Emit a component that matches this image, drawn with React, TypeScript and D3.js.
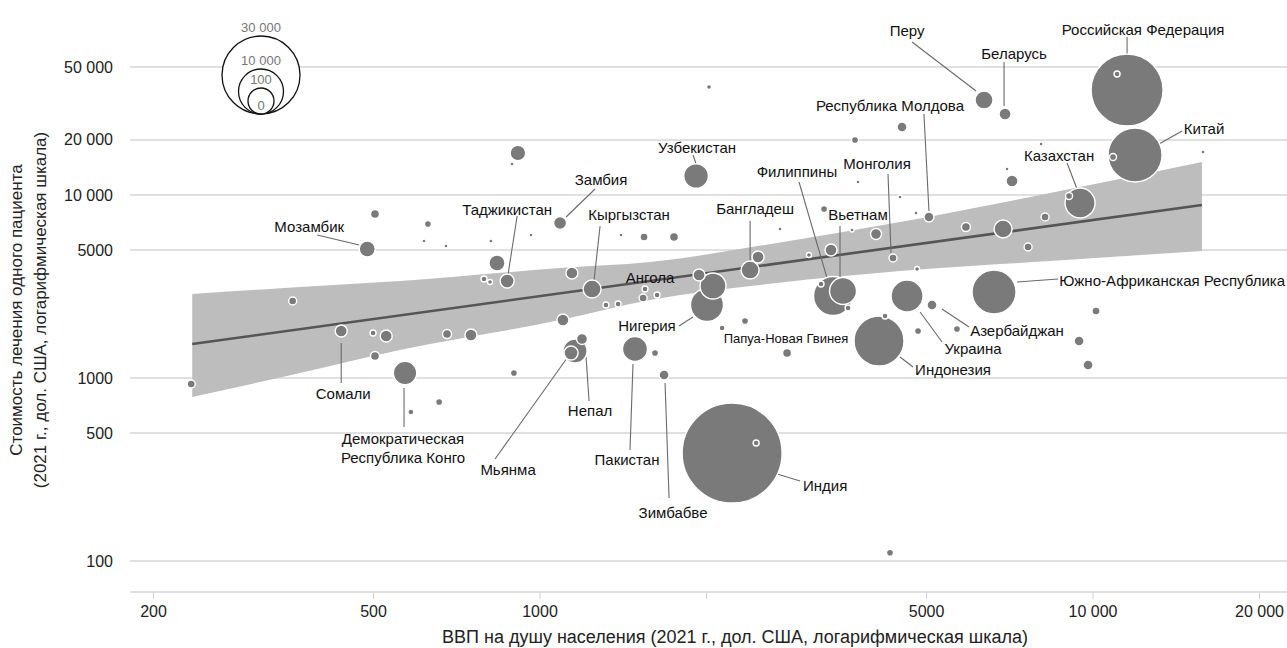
import React from "react";
import * as d3 from "d3";

// ---------- DATA ----------
const names = [
  "", "Перу", "Беларусь", "Российская Федерация", "", "Китай", "", "", "", "",
  "", "", "", "Казахстан", "", "", "", "", "", "",
  "", "", "Монголия", "", "Республика Молдова", "", "", "", "", "",
  "Южно-Африканская Республика", "Украина", "Азербайджан", "", "", "", "", "", "Индонезия", "",
  "Филиппины", "Вьетнам", "", "", "Узбекистан", "Бангладеш", "", "", "", "Ангола",
  "", "Нигерия", "", "Папуа-Новая Гвинея", "", "", "Зимбабве", "", "", "Таджикистан",
  "", "", "", "Кыргызстан", "", "", "", "", "", "Сомали",
  "", "", "", "", "", "", "Непал", "Мьянма", "", "Демократическая Республика Конго",
  "", "", "", "Пакистан", "Мозамбик", "", "", "", "", "",
  "Замбия", "", "", "", "", "", "", "Индия", "", "",
];
const gdpPerCapita = [
  2021, 6352, 6933, 11523, 11052, 11912, 10869, 8054, 15810, 3712,
  4514, 6990, 7137, 9474, 9050, 3758, 4477, 3263, 3666, 4051,
  3359, 3064, 4348, 4806, 5050, 4786, 5891, 6876, 8189, 7630,
  6622, 4610, 5115, 5675, 4826, 10125, 9435, 9795, 4102, 4206,
  3387, 3531, 3222, 3606, 1915, 2398, 2479, 2716, 1747, 1939,
  2055, 2004, 1628, 2348, 2134, 2797, 1676, 1614, 836, 872,
  792, 812, 1142, 1242, 1548, 1536, 1316, 1384, 357, 437,
  499, 527, 679, 750, 503, 1100, 1157, 1138, 1191, 570,
  584, 657, 897, 1485, 487, 503, 627, 617, 676, 815,
  1087, 963, 1401, 1542, 912, 890, 234, 2225, 2459, 4294,
];
const costPerPatient = [
  38920, 33040, 27710, 37480, 45840, 16540, 16130, 18990, 17180, 19980,
  23520, 13870, 11930, 9043, 9874, 11780, 9752, 8383, 6438, 6122,
  5006, 4701, 4526, 3940, 7582, 7972, 6686, 6520, 7582, 5198,
  2951, 2806, 2505, 1853, 1806, 2323, 1593, 1178, 1593, 2182,
  2806, 2988, 3264, 2413, 12700, 3891, 4584, 6520, 5895, 3654,
  3183, 2505, 2842, 2049, 1876, 1370, 1038, 1370, 4249, 3389,
  3475, 3346, 3747, 3064, 3064, 2736, 2505, 2537, 2635, 1806,
  1762, 1696, 1740, 1718, 1319, 2075, 1404, 1370, 1634, 1065,
  652, 739, 1065, 1440, 5069, 7874, 6943, 5606, 5264, 5606,
  7031, 6045, 6045, 5895, 16960, 14770, 927, 389, 441, 111,
];
const patientsTreated = [
  123, 1597, 710, 25560, 177, 14380, 242, 79, 79, 242,
  493, 79, 710, 4437, 242, 79, 79, 242, 79, 597,
  710, 123, 316, 123, 493, 79, 399, 1597, 316, 316,
  9544, 5048, 493, 242, 242, 316, 493, 493, 12325, 177,
  7499, 3594, 177, 177, 2983, 1597, 710, 79, 399, 710,
  3333, 5369, 177, 242, 177, 399, 493, 242, 1262, 966,
  177, 123, 710, 1597, 177, 316, 177, 177, 316, 710,
  177, 710, 399, 710, 399, 710, 2840, 966, 597, 2700,
  177, 242, 242, 3081, 1262, 399, 242, 79, 79, 79,
  833, 79, 79, 316, 1200, 79, 316, 49300, 177, 242,
];

// regression fit and confidence band
const fitGdp = [235, 15740];
const fitCost = [1534, 8816];
const bandGdp = [235, 368, 558, 1087, 1581, 2683, 4477, 8360, 15740];
const bandUpper = [2877, 3143, 3389, 3990, 4303, 5468, 7114, 10254, 15140];
const bandLower = [787, 1065, 1422, 2074, 2669, 3306, 3844, 4360, 4943];

// axes
const xTicks = [200, 500, 1000, 2000, 5000, 10000, 20000];
const xTickLabels = ["200", "500", "1000", "", "5000", "10 000", "20 000"];
const yTicks = [100, 500, 1000, 5000, 10000, 20000, 50000];
const yTickLabels = ["100", "500", "1000", "5000", "10 000", "20 000", "50 000"];

// size legend
const legendValues = [30000, 10000, 100, 0];
const legendLabels = ["30 000", "10 000", "100", "0"];

const xTitle = "ВВП на душу населения (2021 г., дол. США, логарифмическая шкала)";
const yTitle1 = "Стоимость лечения одного пациента";
const yTitle2 = "(2021 г., дол. США, логарифмическая шкала)";

// ---------- LABEL LAYOUT (offsets relative to the point, px) ----------
type Lab = { name: string; lines?: string[]; dx: number; dy: number; anchor?: string; size?: number; leader?: number[] };
const labelLayout: Lab[] = [
  { name: "Перу", dx: -77, dy: -70, leader: [-72, -58, -8, -9] },
  { name: "Беларусь", dx: 9, dy: -61, leader: [-1, -52, -1, -8] },
  { name: "Российская Федерация", dx: 16, dy: -61, leader: [0, -53, 0, -36] },
  { name: "Китай", dx: 69, dy: -27, leader: [47, -24, 24, -11] },
  { name: "Казахстан", dx: -21, dy: -48, leader: [-13, -40, -3, -14] },
  { name: "Республика Молдова", dx: -39, dy: -112, leader: [-5, -103, 0, -6] },
  { name: "Монголия", dx: -16, dy: -95, leader: [-5, -84, -2, -5] },
  { name: "Вьетнам", dx: 15, dy: -77, leader: [-3, -65, -3, -13] },
  { name: "Филиппины", dx: -36, dy: -125, leader: [-34, -114, -6, -18] },
  { name: "Бангладеш", dx: 5, dy: -62, leader: [0, -49, 0, -9] },
  { name: "Узбекистан", dx: 1, dy: -29, leader: [-3, -21, 0, -12] },
  { name: "Замбия", dx: 41, dy: -44, leader: [35, -34, 6, -6] },
  { name: "Кыргызстан", dx: 37, dy: -75, leader: [8, -63, 2, -9] },
  { name: "Таджикистан", dx: 0, dy: -72, leader: [10, -65, 1, -7] },
  { name: "Мозамбик", dx: -58, dy: -23, leader: [-50, -14, -8, -4] },
  { name: "Ангола", dx: -49, dy: 2 },
  { name: "Нигерия", dx: -60, dy: 20, leader: [-28, 21, -14, 12] },
  { name: "Папуа-Новая Гвинея", dx: 41, dy: 17, size: 13 },
  { name: "Сомали", dx: 2, dy: 62, leader: [0, 12, 0, 52] },
  { name: "Демократическая Республика Конго", lines: ["Демократическая", "Республика Конго"], dx: -2, dy: 65, leader: [-1, 15, -1, 54] },
  { name: "Мьянма", dx: -63, dy: 116, leader: [-76, 106, -4, 5] },
  { name: "Непал", dx: 15, dy: 59, leader: [14, 50, 11, 6] },
  { name: "Пакистан", dx: -8, dy: 110, leader: [-5, 101, -2, 15] },
  { name: "Зимбабве", dx: 9, dy: 137, leader: [5, 123, 1, 8] },
  { name: "Индия", dx: 93, dy: 32, leader: [45, 21, 68, 28] },
  { name: "Индонезия", dx: 74, dy: 28, leader: [21, 16, 34, 26] },
  { name: "Украина", dx: 66, dy: 52, leader: [13, 16, 35, 46] },
  { name: "Азербайджан", dx: 85, dy: 25, leader: [10, 4, 37, 22] },
  { name: "Южно-Африканская Республика", dx: 291, dy: -12, anchor: "end", leader: [23, -10, 64, -13] },
];

const FONT = "'Liberation Sans', Arial, Helvetica, sans-serif";
const W = 1287;
const H = 648;

export default function App() {
  const x = d3.scaleLog().domain([200, 20000]).range([153.5, 1259.5]);
  const y = d3.scaleLog().domain([100, 50000]).range([561, 67.1]);
  const r = d3.scaleSqrt().domain([0, 30000]).range([0, 39]);
  const legendR = d3.scaleSqrt().domain([0, 100, 10000, 30000]).range([0, 13, 22.5, 39]);

  const pts = names
    .map((n, i) => ({ name: n, g: gdpPerCapita[i], c: costPerPatient[i], p: patientsTreated[i] }))
    .sort((a, b) => b.p - a.p);

  const idx = d3.range(bandGdp.length);
  const band = d3
    .area<number>()
    .x((i) => x(bandGdp[i]))
    .y0((i) => y(bandLower[i]))
    .y1((i) => y(bandUpper[i]))
    .curve(d3.curveMonotoneX)(idx) as string;

  const fit = d3
    .line<number>()
    .x((i) => x(fitGdp[i]))
    .y((i) => y(fitCost[i]))(d3.range(fitGdp.length)) as string;

  const byName = new Map(pts.map((p) => [p.name, p]));
  const gridX0 = 130;
  const axisY = 592;
  const legCx = 261;
  const legBottom = 114;

  return (
    <svg width={W} height={H} style={{ position: "absolute", left: 0, top: 0, background: "#fff" }} fontFamily={FONT}>
      {/* gridlines */}
      {yTicks.map((t, i) => (
        <g key={"y" + i}>
          <line x1={gridX0} x2={W} y1={y(t)} y2={y(t)} stroke="#d6d6d6" strokeWidth={1.5} />
          <text x={113} y={y(t)} textAnchor="end" dominantBaseline="central" fontSize={16} fill="#222">
            {yTickLabels[i]}
          </text>
        </g>
      ))}
      {/* x axis */}
      <line x1={gridX0} x2={W} y1={axisY} y2={axisY} stroke="#d6d6d6" strokeWidth={1.5} />
      {xTicks.map((t, i) => (
        <g key={"x" + i}>
          <line x1={x(t)} x2={x(t)} y1={axisY} y2={axisY + 7} stroke="#d0d0d0" strokeWidth={1} />
          <text x={x(t)} y={611} textAnchor="middle" dominantBaseline="central" fontSize={16} fill="#222">
            {xTickLabels[i]}
          </text>
        </g>
      ))}
      <text x={735} y={637} textAnchor="middle" dominantBaseline="central" fontSize={18} fill="#222">
        {xTitle}
      </text>
      <text transform="translate(16,310) rotate(-90)" textAnchor="middle" dominantBaseline="central" fontSize={17} fill="#222">
        {yTitle1}
      </text>
      <text transform="translate(40,310) rotate(-90)" textAnchor="middle" dominantBaseline="central" fontSize={17} fill="#222">
        {yTitle2}
      </text>

      {/* legend */}
      {legendValues.map((v, i) => (
        <circle key={"lc" + i} cx={legCx} cy={legBottom - legendR(v)} r={legendR(v)} fill="#fff" stroke="#111" strokeWidth={1.3} />
      ))}
      {legendValues.map((v, i) => (
        <text key={"lt" + i} x={legCx} y={legBottom - 2 * legendR(v) - 9} textAnchor="middle" dominantBaseline="central" fontSize={13} fill="#777">
          {legendLabels[i]}
        </text>
      ))}

      {/* band + fit */}
      <path d={band} fill="#bdbdbd" />
      <path d={fit} fill="none" stroke="#555" strokeWidth={2.6} />

      {/* leaders */}
      {labelLayout.map((l, i) => {
        const p = byName.get(l.name);
        if (!p || !l.leader) return null;
        const px = x(p.g), py = y(p.c);
        return (
          <line key={"ld" + i} x1={px + l.leader[0]} y1={py + l.leader[1]} x2={px + l.leader[2]} y2={py + l.leader[3]} stroke="#6a6a6a" strokeWidth={1.1} />
        );
      })}

      {/* bubbles */}
      {pts.map((p, i) => (
        <circle key={"p" + i} cx={x(p.g)} cy={y(p.c)} r={r(p.p)} fill="#7a7a7a" stroke="#fff" strokeWidth={1.4} />
      ))}

      {/* labels */}
      {labelLayout.map((l, i) => {
        const p = byName.get(l.name);
        if (!p) return null;
        const px = x(p.g), py = y(p.c);
        const lines = l.lines || [l.name];
        return (
          <text key={"lb" + i} x={px + l.dx} y={py + l.dy} textAnchor={l.anchor || "middle"} dominantBaseline="central" fontSize={l.size || 15} fill="#111">
            {lines.map((s, k) => (
              <tspan key={k} x={px + l.dx} dy={k === 0 ? 0 : 19}>
                {s}
              </tspan>
            ))}
          </text>
        );
      })}
    </svg>
  );
}
